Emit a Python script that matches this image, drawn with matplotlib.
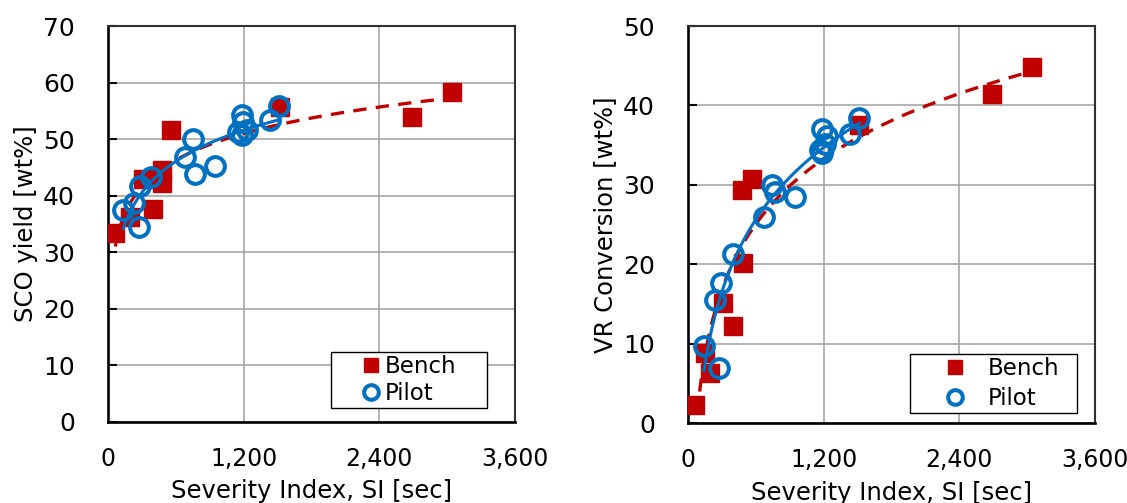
import matplotlib
matplotlib.use("Agg")
import matplotlib.pyplot as plt
import numpy as np
from matplotlib.ticker import FuncFormatter

# SCO yield panel
sco_bench_si = [62, 192, 310, 398, 472, 472, 555, 1520, 2691, 3045]
sco_bench_y = [33.3, 36.3, 43.0, 37.6, 44.5, 42.3, 51.6, 55.7, 53.9, 58.3]
sco_pilot_si = [133, 230, 275, 281, 378, 679, 747, 767, 945, 1151, 1181, 1181, 1195, 1225, 1431, 1511]
sco_pilot_y = [37.4, 38.6, 34.5, 41.7, 43.3, 46.8, 50.0, 43.9, 45.2, 51.3, 54.3, 50.7, 53.1, 51.6, 53.4, 55.8]

# VR conversion panel
vr_bench_si = [62, 148, 192, 310, 398, 478, 487, 561, 1514, 2691, 3045]
vr_bench_y = [2.3, 8.8, 6.3, 15.1, 12.2, 29.4, 20.2, 30.8, 37.5, 41.4, 44.8]
vr_pilot_si = [139, 236, 275, 287, 393, 673, 744, 767, 945, 1166, 1181, 1186, 1210, 1225, 1431, 1514]
vr_pilot_y = [9.7, 15.5, 6.9, 17.7, 21.3, 26.0, 30.0, 29.1, 28.5, 34.4, 34.0, 37.1, 35.2, 36.1, 36.4, 38.4]

x_ticks = [0, 1200, 2400, 3600]
RED = "#C00000"
BLUE = "#0070C0"

plt.rcParams["font.family"] = ["DejaVu Sans"]


def log_trend(ax, x, y, **kw):
    # excel-style logarithmic trendline y = a*ln(x) + b
    b1, b0 = np.polyfit(np.log(x), y, 1)
    xs = np.linspace(min(x), max(x), 200)
    ax.plot(xs, b1 * np.log(xs) + b0, **kw)


def draw_panel(ax, bench_x, bench_y, pilot_x, pilot_y, ymax, ylabel, leg):
    log_trend(ax, bench_x, bench_y, color=RED, lw=2.4, ls=(0, (4, 2.8)), zorder=2)
    ax.plot(bench_x, bench_y, ls="none", marker="s", ms=13.5, color=RED,
            mec=RED, label="Bench", zorder=3)
    ax.plot(pilot_x, pilot_y, ls="none", marker="o", ms=13.5, mfc="none",
            mec=BLUE, mew=2.9, label="Pilot", zorder=4)
    log_trend(ax, pilot_x, pilot_y, color=BLUE, lw=2.2, zorder=5)

    ax.set_xlim(0, 3600)
    ax.set_ylim(0, ymax)
    ax.set_xticks(x_ticks)
    ax.set_yticks(np.arange(0, ymax + 1, 10))
    ax.xaxis.set_major_formatter(FuncFormatter(lambda v, p: f"{int(v):,}"))
    ax.grid(True, color="#A0A0A0", lw=1.1, zorder=0)
    ax.set_axisbelow(True)
    for s in ["left", "bottom"]:
        ax.spines[s].set_linewidth(1.9)
        ax.spines[s].set_color("black")
    for s in ["top", "right"]:
        ax.spines[s].set_linewidth(1.5)
        ax.spines[s].set_color("#303030")
    ax.tick_params(axis="y", direction="in", length=6.5, width=1.5, pad=24, labelsize=18)
    ax.tick_params(axis="x", direction="in", length=0, pad=18, labelsize=17)
    ax.set_xlabel("Severity Index, SI [sec]", fontsize=17.5, labelpad=6)
    ax.set_ylabel(ylabel, fontsize=17.5, labelpad=4)

    lg = ax.legend(loc="lower left", bbox_to_anchor=leg["box"], mode="expand",
                   borderaxespad=0, fontsize=16.5, numpoints=1, markerscale=0.78,
                   handlelength=leg["hl"], handletextpad=leg["htp"],
                   labelspacing=leg["ls"], borderpad=0.15, fancybox=False,
                   framealpha=1, edgecolor="black")
    lg.get_frame().set_linewidth(1.0)
    lg.set_zorder(10)


fig = plt.figure(figsize=(11.27, 5.03), dpi=100)
ax1 = fig.add_axes([108.3 / 1127, (503 - 421.7) / 503, 406.7 / 1127, 395.7 / 503])
ax2 = fig.add_axes([688.3 / 1127, (503 - 423.3) / 503, 406.7 / 1127, 397.3 / 503])

draw_panel(ax1, sco_bench_si, sco_bench_y, sco_pilot_si, sco_pilot_y, 70,
           "SCO yield [wt%]",
           dict(box=(0.5476, 0.0346, 0.384, 0.16), hl=3.17, htp=-0.96, ls=0.145))
draw_panel(ax2, vr_bench_si, vr_bench_y, vr_pilot_si, vr_pilot_y, 50,
           "VR Conversion [wt%]",
           dict(box=(0.5451, 0.0252, 0.411, 0.164), hl=3.6, htp=-0.35, ls=0.29))

fig.savefig("out.png", dpi=100)
